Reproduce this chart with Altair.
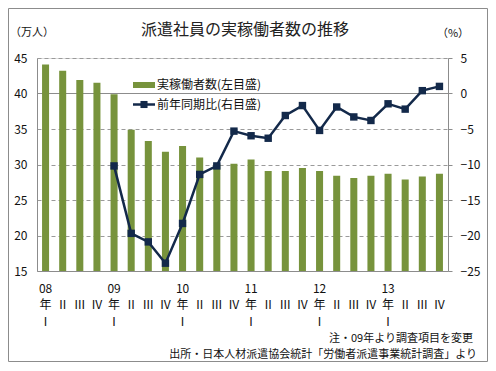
import altair as alt
import pandas as pd

# ---- data ----
years = ["08", "09", "10", "11", "12", "13"]
quarters = ["Ⅰ", "Ⅱ", "Ⅲ", "Ⅳ"]
categories = [f"{y}|{q}" for y in years for q in quarters]

workers = [44.1, 43.2, 41.9, 41.5, 39.9, 34.9, 33.3, 31.8, 32.6, 31.0, 30.0, 30.1,
           30.7, 29.1, 29.1, 29.5, 29.1, 28.4, 28.1, 28.4, 28.7, 27.9, 28.3, 28.7]
yoy = [None, None, None, None, -10.2, -19.7, -20.9, -23.9, -18.3, -11.4, -10.2, -5.3,
       -5.95, -6.3, -3.1, -1.7, -5.2, -1.9, -3.3, -3.8, -1.45, -2.2, 0.4, 1.0]

left_ticks = [15, 20, 25, 30, 35, 40, 45]
right_ticks = [-25, -20, -15, -10, -5, 0, 5]

title_text = "派遣社員の実稼働者数の推移"
left_unit = "（万人）"
right_unit = "（%）"
legend_bar = "実稼働者数(左目盛)"
legend_line = "前年同期比(右目盛)"
note1 = "注・09年より調査項目を変更"
note2 = "出所・日本人材派遣協会統計「労働者派遣事業統計調査」より"

df = pd.DataFrame({"q": categories, "workers": workers, "yoy": yoy})

GREEN = "#77933C"
NAVY = "#13294A"
GRAY = "#8C8C8C"
FONT = "Noto Sans CJK JP"

W, H = 411, 213

xenc = alt.X(
    "q:N", sort=categories, title=None,
    scale=alt.Scale(paddingInner=0.59, paddingOuter=0.295),
    axis=alt.Axis(
        labelAngle=0, ticks=False, domainColor=GRAY, labelOverlap=False,
        labelFlush=False, labelPadding=12, labelLineHeight=16.5, labelFontSize=12,
        labelBaseline="top", labelColor="#111", labelFont=FONT,
        labelExpr="indexof(datum.value, 'Ⅰ') >= 0 ? [split(datum.value, '|')[0], '年', 'Ⅰ'] : ['', split(datum.value, '|')[1]]",
    ),
)

base = alt.Chart(df)

one = alt.Data(values=[{"a": 1}])

# solid line where the right axis is 0 (left axis 40)
zero_rule = alt.Chart(one).mark_rule(color=GRAY, strokeWidth=1).encode(
    x=alt.value(0), x2=alt.value(W), y=alt.value(H * (45 - 40) / 30)
)

bars = base.mark_bar(color=GREEN, clip=True).encode(
    x=xenc,
    y=alt.Y(
        "workers:Q", title=None,
        scale=alt.Scale(domain=[15, 45], zero=False, nice=False),
        axis=alt.Axis(
            orient="left", values=left_ticks, ticks=False, domainColor=GRAY,
            grid=True, gridDash=[4, 3], gridColor="#9A9A9A", labelPadding=10,
            labelOverlap=False, labelFlush=False,
            labelFontSize=12, labelColor="#111", labelFont=FONT,
        ),
    ),
)

line = base.transform_filter("isValid(datum.yoy)").mark_line(
    color=NAVY, strokeWidth=2.5,
    point=alt.OverlayMarkDef(shape="square", size=55, filled=True, color=NAVY, opacity=1),
).encode(
    x=xenc,
    y=alt.Y(
        "yoy:Q", title=None,
        scale=alt.Scale(domain=[-25, 5], nice=False),
        axis=alt.Axis(
            orient="right", values=right_ticks, tickSize=4, tickColor=GRAY,
            domainColor=GRAY, grid=False, labelPadding=8, labelAlign="left",
            labelOverlap=False, labelFlush=False,
            labelFontSize=12, labelColor="#111", labelFont=FONT,
        ),
    ),
)


def txt(text, x, y, size=12, align="left", color="#111"):
    return alt.Chart(one).mark_text(
        text=text, fontSize=size, align=align, baseline="middle", font=FONT, color=color
    ).encode(x=alt.value(x), y=alt.value(y))


border = alt.Chart(one).mark_rect(fill=None, stroke=GRAY, strokeWidth=1).encode(
    x=alt.value(-28.5), x2=alt.value(450.5), y=alt.value(-49.5), y2=alt.value(303.5)
)

leg_rect = alt.Chart(one).mark_rect(color=GREEN).encode(
    x=alt.value(96), x2=alt.value(118), y=alt.value(24), y2=alt.value(30)
)
leg_line = alt.Chart(one).mark_rule(color=NAVY, strokeWidth=2.5).encode(
    x=alt.value(96), x2=alt.value(118), y=alt.value(46.5)
)
leg_pt = alt.Chart(one).mark_point(shape="square", size=50, filled=True, color=NAVY, opacity=1).encode(
    x=alt.value(107), y=alt.value(46.5)
)

chart = alt.layer(
    zero_rule, bars, line,
    border,
    txt(title_text, 208, -28, size=16, align="center", color="#222"),
    txt(left_unit, -5, -25, size=11, align="center"),
    txt(right_unit, 416, -24, size=11, align="center"),
    leg_rect, leg_line, leg_pt,
    txt(legend_bar, 120, 27, size=12),
    txt(legend_line, 120, 47, size=12),
    txt(note1, 436, 281, size=11, align="right"),
    txt(note2, 440, 297, size=11, align="right"),
).resolve_scale(y="independent").properties(
    width=W, height=H,
    autosize=alt.AutoSizeParams(type="none"),
    padding={"left": 29, "top": 50, "right": 40, "bottom": 91},
).configure_view(strokeWidth=0).configure(background="white")

chart.save("out.html", embed_options={"renderer": "svg", "actions": False})
